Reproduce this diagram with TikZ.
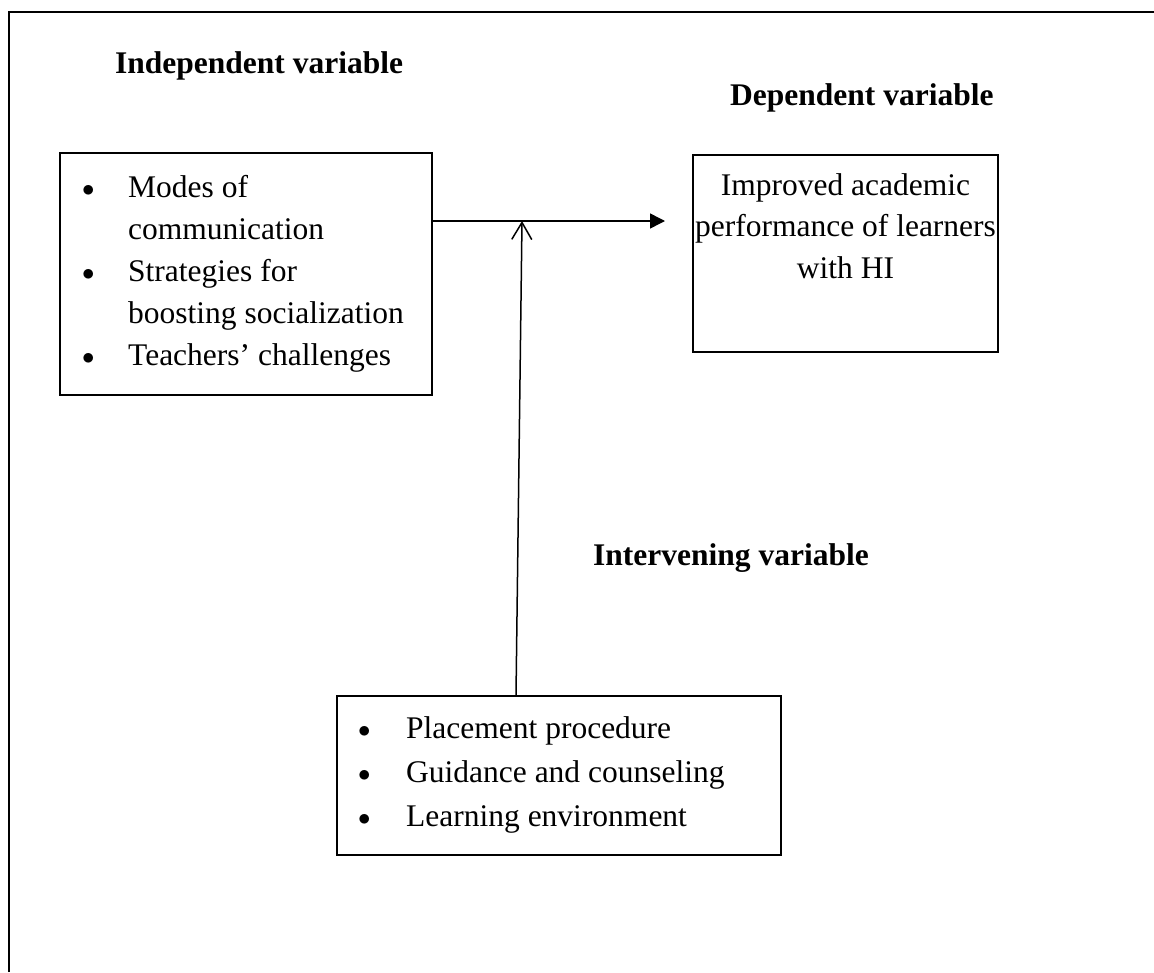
\documentclass[tikz,border=0pt]{standalone}
\usepackage{fontspec}
\setmainfont{Liberation Serif}
\usetikzlibrary{arrows.meta}
\newcommand{\dotmark}{\raisebox{1pt}{\fontsize{48}{48}\selectfont$\bullet$}}
\begin{document}
\begin{tikzpicture}[x=1pt,y=-1pt,
		every node/.style={inner sep=0pt, font=\fontsize{31.5}{41.5}\selectfont},
		heading/.style={anchor=base west, font=\fontsize{31.5}{41}\selectfont\bfseries},
		list/.style={anchor=base west}]
		\useasboundingbox (0,0) rectangle (1154,972);
		\draw[line width=1.5pt] (9,972) -- (9,12) -- (1154,12);
		
		\begin{scope}[every node/.style={rectangle,draw,line width=1.5pt,
				inner sep=0pt}]
			\node[minimum width=372pt, minimum height=242pt] (indep) at (246,274) {};
			\node[minimum width=305pt, minimum height=197pt] (dep) at (845.5,253.5) {};
			\node[minimum width=444pt, minimum height=159pt] (inter) at (559,775.5) {};
		\end{scope}
		
		\node[heading] (indephead) at (115,73) {Independent variable};
		\node[heading] (dephead) at (730,105) {Dependent variable};
		\node[heading] (interhead) at (593,565) {Intervening variable};
		
		\node[list, font=\fontsize{31.5}{42}\selectfont] (indeplist) at (82,197) {\begin{tabular}[t]{@{}p{46pt}@{}l@{}}
				\dotmark & Modes of\\ & communication\\
				\dotmark & Strategies for\\ & boosting socialization\\
				\dotmark & Teachers’ challenges\end{tabular}};
		\node[anchor=base] (deptext) at (845.5,195) {\begin{tabular}[t]{@{}c@{}}
				Improved academic\\ performance of learners\\ with HI\end{tabular}};
		\node[list, font=\fontsize{31.5}{44}\selectfont] (interlist) at (358,738) {\begin{tabular}[t]{@{}p{48pt}@{}l@{}}
				\dotmark & Placement procedure\\
				\dotmark & Guidance and counseling\\
				\dotmark & Learning environment\end{tabular}};
		
		\coordinate (split) at (522,221);
		\coordinate (tip) at (665,221);
		\draw[line width=1.5pt, -{Triangle[length=15pt,width=15pt]}] ([yshift=53pt]indep.east) -- (tip);
		\draw[line width=1.5pt, -{Straight Barb[length=17pt,width=20pt]}] ([xshift=-43pt]inter.north) -- (split);
\end{tikzpicture}
\end{document}
